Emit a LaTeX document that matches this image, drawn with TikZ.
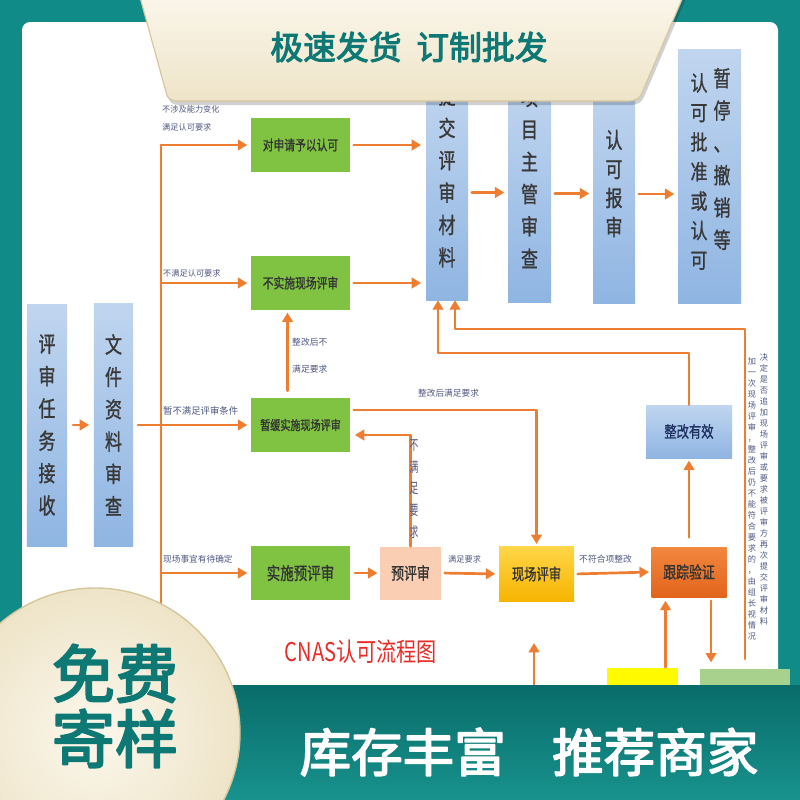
\documentclass[tikz,border=0pt]{standalone}
\usepackage{fontspec}
\setmainfont{Noto Sans CJK SC}
\newfontfamily\heavyfont{Noto Sans CJK SC}[FakeBold=3]
\newfontfamily\boxfont{Noto Sans CJK SC}[FakeBold=1.2]
\usetikzlibrary{arrows.meta, calc}

\definecolor{framecol}{RGB}{17,139,136}
\definecolor{tealtext}{RGB}{14,120,116}
\definecolor{bandT}{RGB}{9,108,106}
\definecolor{bandB}{RGB}{24,146,141}
\definecolor{flowor}{RGB}{237,125,49}
\definecolor{boxgreen}{RGB}{128,195,66}
\definecolor{boxblueT}{RGB}{192,213,239}
\definecolor{boxblueB}{RGB}{143,181,226}
\definecolor{peach}{RGB}{249,206,178}
\definecolor{goldT}{RGB}{255,214,72}
\definecolor{goldB}{RGB}{246,180,0}
\definecolor{trackT}{RGB}{242,135,62}
\definecolor{trackB}{RGB}{226,100,28}
\definecolor{labelblue}{RGB}{78,88,128}
\definecolor{navytext}{RGB}{30,48,96}
\definecolor{creamL}{RGB}{251,247,236}
\definecolor{creamD}{RGB}{238,228,200}
\definecolor{creamedge}{RGB}{214,198,156}
\definecolor{cnasred}{RGB}{232,45,40}
\definecolor{baryellow}{RGB}{255,250,0}
\definecolor{bargreen}{RGB}{169,209,142}

% tall glyphs
\def\vsy{1}
\newcommand\vglyph[1]{\scalebox{1}[\vsy]{#1}}
\newcommand\tallt[1]{\scalebox{1}[1.3]{#1}}
% vertical text: one character per line
\def\vgobble#1{}
\def\vchars#1{\vcharsA#1\relax}
\def\vcharsA#1{\vglyph{#1}\vcharsB}
\def\vcharsB#1{\ifx#1\relax\expandafter\vgobble\else\expandafter\vcharsC\fi#1}
\def\vcharsC#1{\\\vglyph{#1}\vcharsB}

\begin{document}
\begin{tikzpicture}[x=0.03cm, y=-0.03cm, line cap=round, line join=round,
	flow/.style={draw=flowor, line width=2.3pt, -{Triangle[length=8pt,width=9pt]}, shorten >=2pt},
	flowline/.style={draw=flowor, line width=2.3pt},
	greenbox/.style={fill=boxgreen, minimum width=2.97cm, minimum height=1.62cm, inner sep=0pt,
		text=black!80, font=\boxfont\fontsize{9.2}{11}\selectfont},
	flatbox/.style={inner sep=0pt, text=black!80, font=\boxfont\fontsize{10.5}{12}\selectfont},
	bluebox/.style={top color=boxblueT, bottom color=boxblueB, inner sep=0pt},
	vtext/.style={align=center, inner sep=0pt, text=black!78, font=\boxfont\fontsize{14.5}{27.6}\selectfont\def\vsy{1.3}},
	lbl/.style={inner sep=0pt, text=labelblue, font=\fontsize{7}{8}\selectfont}]
	
	%========================
	% frame and panel
	%========================
	\useasboundingbox (0,0) rectangle (800,800);
	\fill[framecol] (0,0) rectangle (800,800);
	\fill[white, rounded corners=7pt] (22,22) rectangle (778,710);
	
	%========================
	% left: task and documents
	%========================
	\node[bluebox, minimum width=1.2cm, minimum height=7.26cm] (recv) at (47,425) {};
	\node[vtext] (recv-t) at (recv.center) {\vchars{评审任务接收}};
	\node[bluebox, minimum width=1.17cm, minimum height=7.29cm] (docs) at (113.5,425) {};
	\node[vtext] (docs-t) at (docs.center) {\vchars{文件资料审查}};
	
	%========================
	% middle: green decisions
	%========================
	\node[greenbox] (grant) at (300.5,145) {\tallt{对申请予以认可}};
	\node[greenbox] (noaud) at (300.5,283) {\tallt{不实施现场评审}};
	\node[greenbox, font=\boxfont\fontsize{8.6}{10}\selectfont] (defer) at (300.5,425) {\tallt{暂缓实施现场评审}};
	\node[greenbox, font=\boxfont\fontsize{11.5}{13}\selectfont] (preimp) at (300.5,573) {\tallt{实施预评审}};
	
	% bottom row
	\node[flatbox, fill=peach, minimum width=1.83cm, minimum height=1.59cm, font=\boxfont\fontsize{11}{12}\selectfont] (pre) at (410.5,573) {\tallt{预评审}};
	\node[flatbox, top color=goldT, bottom color=goldB, minimum width=2.25cm, minimum height=1.65cm] (onsite) at (536.5,574) {\tallt{现场评审}};
	\node[flatbox, top color=trackT, bottom color=trackB, minimum width=2.25cm, minimum height=1.5cm, font=\boxfont\fontsize{11}{12}\selectfont] (track) at (689,572) {\tallt{跟踪验证}};
	\node[flatbox, bluebox, minimum width=2.58cm, minimum height=1.59cm, text=navytext] (fixok) at (689,431.5) {\tallt{整改有效}};
	\node[fill=baryellow, minimum width=2.13cm, minimum height=0.99cm] (ybar) at (642.5,684) {};
	\node[fill=bargreen, minimum width=2.7cm, minimum height=0.99cm] (gbar) at (745,685) {};
	
	%========================
	% top row: tall boxes
	%========================
	\node[bluebox, minimum width=1.26cm, minimum height=6.45cm] (submit) at (447,192.5) {};
	\node[vtext] (submit-t) at (447,176.5) {\vchars{提交评审材料}};
	\node[bluebox, minimum width=1.29cm, minimum height=6.51cm] (mgr) at (529.5,193.5) {};
	\node[vtext] (mgr-t) at (529.5,178) {\vchars{项目主管审查}};
	\node[bluebox, minimum width=1.26cm, minimum height=6.54cm] (report) at (614,194) {};
	\node[vtext, font=\boxfont\fontsize{14.5}{24.8}\selectfont\def\vsy{1.3}] (report-t) at (614,183.5) {\vchars{认可报审}};
	\node[bluebox, minimum width=1.89cm, minimum height=7.59cm] (decide) at (709.5,176.5) {};
	\node[vtext] (decide-r) at (722,159) {\vchars{暂停、撤销等}};
	\node[vtext, font=\boxfont\fontsize{14.5}{25.2}\selectfont\def\vsy{1.25}] (decide-l) at (699,171.5) {\vchars{认可批准或认可}};
	
	%========================
	% connectors
	%========================
	\coordinate (trunktop) at (161,145);
	\coordinate (trunkbot) at (161,650);
	\draw[flowline] (trunktop) -- (trunkbot);
	\draw[flow, shorten <=5pt, shorten >=4pt] (recv.east) -- (docs.west);
	\draw[flow, shorten <=4pt, shorten >=3pt] (docs.east) -- (defer.west);
	\draw[flow, shorten >=3pt] (trunktop) -- (grant.west);
	\draw[flow, shorten >=3pt] (trunktop |- noaud.west) -- (noaud.west);
	\draw[flow, shorten >=3pt] (trunktop |- preimp.west) -- (preimp.west);
	
	\draw[flow, shorten <=3pt, shorten >=4pt] (grant.east) -- (grant.east -| submit.west);
	\draw[flow, shorten <=3pt, shorten >=4pt] (noaud.east) -- (noaud.east -| submit.west);
	\draw[flow, shorten <=3pt, shorten >=3pt] (submit.east) -- (submit.east -| mgr.west);
	\draw[flow, shorten <=3pt, shorten >=3pt] (mgr.east) -- (mgr.east -| report.west);
	\draw[flow, shorten <=3pt, shorten >=3pt] (report.east) -- (report.east -| decide.west);
	
	\draw[flow, shorten <=6pt] ($(defer.north)+(-13,0)$) -- ($(noaud.south)+(-13,0)$);
	\draw[flow, shorten <=3pt] ($(defer.east)+(0,-15)$) -| (onsite.north);
	\draw[flow, shorten >=4pt] (pre.north) |- ($(defer.east)+(0,10)$);
	
	\draw[flow, shorten <=4pt] (preimp.east) -- (pre.west);
	\draw[flow, shorten <=3pt, shorten >=3pt] (pre.east) -- (onsite.west);
	\draw[flow, shorten <=3pt] (onsite.east) -- (track.west);
	\draw[flow, shorten <=8pt] (track.north) -- (fixok.south);
	
	\coordinate (fbA) at (438,353);
	\coordinate (fbB) at (455,329);
	\draw[flow, shorten >=0pt] (fixok.north) |- (fbA) -- (fbA |- submit.south);
	\draw[flow, shorten <=8pt, shorten >=0pt] (gbar.north) |- (fbB) -- (fbB |- submit.south);
	
	\draw[flow, shorten <=3pt, shorten >=5pt] ($(track.south)+(22,0)$) coordinate (tdn) -- (tdn |- gbar.north);
	\draw[flow, shorten >=3pt] ($(ybar.north)+(23,0)$) coordinate (yup) -- (yup |- track.south);
	\coordinate (cnasup) at (534,705);
	\coordinate (upend) at (534,643);
	\draw[flow, shorten >=0pt] (cnasup) -- (upend);
	
	%========================
	% labels
	%========================
	\node[lbl, anchor=south west, align=left, font=\fontsize{7}{15}\selectfont] (lbl-grant) at (162,131) {不涉及能力变化\\满足认可要求};
	\node[lbl, anchor=south west] (lbl-noaud) at (163,277) {不满足认可要求};
	\node[lbl, anchor=south west, font=\fontsize{8}{9}\selectfont] (lbl-defer) at (163,415) {暂不满足评审条件};
	\node[lbl, anchor=south west, font=\fontsize{7.4}{9}\selectfont] (lbl-preimp) at (163,563) {现场事宜有待确定};
	\node[lbl, anchor=west, align=left, font=\fontsize{7.5}{23}\selectfont] (lbl-up) at (292,356) {整改后不\\满足要求};
	\node[lbl, anchor=south west, font=\fontsize{7.4}{9}\selectfont] (lbl-ok) at (418,397) {整改后满足要求};
	\node[lbl, align=center, font=\fontsize{7.5}{18.5}\selectfont\def\vsy{1.6}] (lbl-no) at (414,489) {\vchars{不满足要求}};
	\node[lbl, anchor=south west] (lbl-pass) at (448,563) {满足要求};
	\node[lbl, anchor=south west, font=\fontsize{7.5}{9}\selectfont] (lbl-nc) at (579,563) {不符合项整改};
	\node[lbl, anchor=north, align=center, font=\fontsize{7}{9.4}\selectfont] (lbl-r1) at (764,353) {\vchars{决定是否追加现场评审或要求被评审方再次提交评审材料}};
	\node[lbl, anchor=north, align=center, font=\fontsize{7}{9.4}\selectfont] (lbl-r2) at (752,357) {\vchars{加一次现场评审，整改后仍不能符合要求的，由组长视情况}};
	
	\node[text=cnasred, font=\fontsize{22}{24}\selectfont] (title) at (361,652) {\scalebox{0.78}[1]{CNAS认可流程图}};
	
	%========================
	% banners
	%========================
	\shade[top color=bandT, bottom color=bandB] (0,685) rectangle (800,800);
	\node[text=white, font=\heavyfont\fontsize{44}{46}\selectfont] (stock) at (529,752) {库存丰富\hspace{0.9em}推荐商家};
	
	\shadedraw[inner color=creamL, outer color=creamD, draw=creamedge, line width=1.2pt] (95,733) circle[radius=145];
	\node[text=tealtext, align=center, font=\heavyfont\fontsize{54}{55.5}\selectfont] (free) at (115,706) {免费\\寄样};
	
	\fill[black, opacity=0.18, shift={(2,4)}] (138,-10) -- (166,92) .. controls (167,98) and (170,101) .. (178,101)
		-- (628,101) .. controls (636,101) and (640,98) .. (642,93) -- (686,-10) -- cycle;
	\shadedraw[top color=creamL, bottom color=creamD, draw=creamedge, line width=1pt] (138,-10) -- (166,92) .. controls (167,98) and (170,101) .. (178,101)
		-- (628,101) .. controls (636,101) and (640,98) .. (642,93) -- (686,-10) -- cycle;
	\node[text=tealtext, font=\heavyfont\fontsize{28}{30}\selectfont] (head) at (409,47) {极速发货\hspace{0.45em}订制批发};
	
\end{tikzpicture}
\end{document}
